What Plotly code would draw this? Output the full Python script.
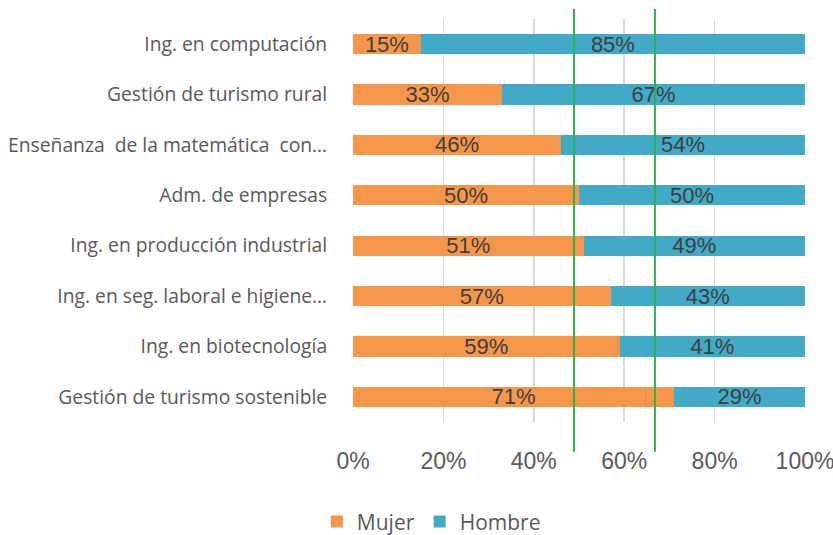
import plotly.graph_objects as go

categories = [
    "Ing. en computación",
    "Gestión de turismo rural",
    "Enseñanza  de la matemática  con…",
    "Adm. de empresas",
    "Ing. en producción industrial",
    "Ing. en seg. laboral e higiene…",
    "Ing. en biotecnología",
    "Gestión de turismo sostenible",
]
mujer = [15, 33, 46, 50, 51, 57, 59, 71]
hombre = [85, 67, 54, 50, 49, 43, 41, 29]
x_ticks = [0, 20, 40, 60, 80, 100]
reference_lines = [48.9, 66.8]

ORANGE = "#F5964A"
BLUE = "#41AAC6"
LABEL_FONT = dict(family="Liberation Sans, Arial, sans-serif", size=22, color="#404040")

fig = go.Figure()
fig.add_trace(go.Bar(
    y=categories, x=mujer, name="Mujer", orientation="h",
    marker=dict(color=ORANGE, line=dict(width=0)),
    text=[f"{v}%" for v in mujer], textposition="inside",
    insidetextanchor="middle", textfont=LABEL_FONT, constraintext="none",
    hoverinfo="skip",
))
fig.add_trace(go.Bar(
    y=categories, x=hombre, name="Hombre", orientation="h",
    marker=dict(color=BLUE, line=dict(width=0)),
    text=[f"{v}%" for v in hombre], textposition="inside",
    insidetextanchor="middle", textfont=LABEL_FONT, constraintext="none",
    hoverinfo="skip",
))

for xv in reference_lines:
    fig.add_shape(type="line", xref="x", yref="paper",
                  x0=xv, x1=xv, y0=-0.074, y1=1.025,
                  line=dict(color="#2EB24C", width=2), layer="above")

fig.update_layout(
    width=833, height=535,
    barmode="stack", bargap=0.60,
    plot_bgcolor="white", paper_bgcolor="white",
    margin=dict(l=353, r=28, t=19, b=113, autoexpand=False),
    uniformtext=dict(mode=False),
    xaxis=dict(
        range=[0, 100], tickvals=x_ticks, ticktext=[f"{v}%" for v in x_ticks],
        showgrid=True, gridcolor="#D9D9D9", gridwidth=1.5, zeroline=False,
        showline=False, ticks="outside", ticklen=18, tickcolor="rgba(0,0,0,0)",
        tickfont=dict(family="Liberation Sans, Arial, sans-serif", size=23, color="#595959"),
        fixedrange=True, automargin=False, ticklabeloverflow="allow",
    ),
    yaxis=dict(
        autorange="reversed", showgrid=False, zeroline=False, showline=False,
        ticks="outside", ticklen=21, tickcolor="rgba(0,0,0,0)",
        tickfont=dict(family="Open Sans, sans-serif", size=19.3, color="#595959"),
        fixedrange=True, automargin=False, ticklabeloverflow="allow",
    ),
    legend=dict(
        orientation="h", x=-0.08, xanchor="left", y=-0.248, yanchor="middle",
        font=dict(family="Open Sans, sans-serif", size=21, color="#595959"),
        itemwidth=30, traceorder="normal",
    ),
    showlegend=True,
)

fig.write_html(
    "out.html",
    config={"displayModeBar": False, "staticPlot": True},
    post_script="document.body.style.margin='0';document.body.style.overflow='hidden';",
)
